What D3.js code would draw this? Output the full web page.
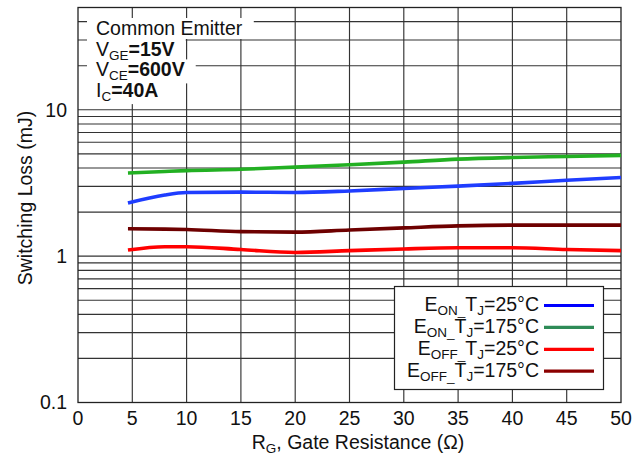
<!DOCTYPE html>
<html>
<head>
<meta charset="utf-8">
<script src="https://cdn.jsdelivr.net/npm/d3@7"></script>
<style>
  html, body { margin: 0; padding: 0; background: #fff; }
  svg { display: block; font-family: "Liberation Sans", Arial, Helvetica, sans-serif; }
</style>
</head>
<body>
<svg id="chart" width="642" height="460"></svg>
<script>
// Gate resistance (ohm) sample points
const rg = [4.6, 8, 10, 15, 20, 25, 30, 35, 40, 45, 50];

// Switching energy (mJ) for each curve
const eOn25   = [2.31, 2.62, 2.72, 2.74, 2.72, 2.79, 2.90, 3.01, 3.14, 3.30, 3.45];
const eOn175  = [3.70, 3.79, 3.84, 3.92, 4.06, 4.21, 4.39, 4.60, 4.72, 4.80, 4.88];
const eOff25  = [1.10, 1.16, 1.16, 1.11, 1.06, 1.09, 1.12, 1.14, 1.14, 1.11, 1.09];
const eOff175 = [1.54, 1.53, 1.52, 1.47, 1.46, 1.51, 1.56, 1.61, 1.63, 1.63, 1.63];

const xTicks = [0, 5, 10, 15, 20, 25, 30, 35, 40, 45, 50];
const yTickLabels = [0.1, 1, 10];
const yGrid = [0.2, 0.3, 0.4, 0.5, 0.6, 0.7, 0.8, 0.9, 1,
               2, 3, 4, 5, 6, 7, 8, 9, 10, 20, 30, 40];

const series = [
  { name: ["E", "ON_", "T", "J", "=25°C"],  values: eOn25,   color: "#1f3dff", key: "#0000ff" },
  { name: ["E", "ON_", "T", "J", "=175°C"], values: eOn175,  color: "#22b022", key: "#2e8b57" },
  { name: ["E", "OFF_", "T", "J", "=25°C"], values: eOff25,  color: "#ff0000", key: "#ff0000" },
  { name: ["E", "OFF_", "T", "J", "=175°C"], values: eOff175, color: "#6e0000", key: "#8b0000" }
];

const FS = 19.5;   // main text size
const SUB = 13.5;  // subscript size
const SUBDY = 4;   // subscript drop

const svg = d3.select("#chart");
const m = { left: 78, right: 621, top: 7.5, bottom: 402.5 };

const x = d3.scaleLinear().domain([0, 50]).range([m.left, m.right]);
const y = d3.scaleLog().domain([0.1, 50]).range([m.bottom, m.top]);

// grid
const grid = svg.append("g").attr("stroke", "#333").attr("stroke-width", 1.15);
grid.selectAll("line.h").data(yGrid).join("line")
  .attr("x1", m.left).attr("x2", m.right)
  .attr("y1", d => y(d)).attr("y2", d => y(d));
grid.selectAll("line.v").data(xTicks.slice(1, -1)).join("line")
  .attr("y1", m.top).attr("y2", m.bottom)
  .attr("x1", d => x(d)).attr("x2", d => x(d));

// frame
svg.append("rect")
  .attr("x", m.left).attr("y", m.top)
  .attr("width", m.right - m.left).attr("height", m.bottom - m.top)
  .attr("fill", "none").attr("stroke", "#222").attr("stroke-width", 1.3);

// tick labels
svg.append("g").selectAll("text").data(xTicks).join("text")
  .attr("x", d => x(d)).attr("y", 425)
  .attr("text-anchor", "middle").attr("font-size", FS).attr("fill", "#111")
  .text(d => d);

svg.append("g").selectAll("text").data(yTickLabels).join("text")
  .attr("x", 67).attr("y", d => y(d)).attr("dy", "0.35em")
  .attr("text-anchor", "end").attr("font-size", FS).attr("fill", "#111")
  .text(d => d);

// axis titles
const xt = svg.append("text").attr("x", 358).attr("y", 449)
  .attr("text-anchor", "middle").attr("font-size", FS).attr("fill", "#111");
xt.append("tspan").text("R");
xt.append("tspan").attr("dy", SUBDY).attr("font-size", SUB).text("G");
xt.append("tspan").attr("dy", -SUBDY).text(", Gate Resistance (Ω)");

svg.append("text")
  .attr("transform", "translate(32,198) rotate(-90)")
  .attr("text-anchor", "middle").attr("font-size", FS).attr("fill", "#111")
  .text("Switching Loss (mJ)");

// curves
const line = d3.line()
  .x((d, i) => x(rg[i]))
  .y(d => y(d))
  .curve(d3.curveMonotoneX);

svg.append("g").selectAll("path").data(series).join("path")
  .attr("d", d => line(d.values))
  .attr("fill", "none")
  .attr("stroke", d => d.color)
  .attr("stroke-width", 3.6)
  .attr("stroke-linecap", "butt");

// test-condition notes; white backings go in a layer beneath all text
const notes = [
  [["Common Emitter", "n"]],
  [["V", "n"], ["GE", "s"], ["=15V", "b"]],
  [["V", "n"], ["CE", "s"], ["=600V", "b"]],
  [["I", "n"], ["C", "s"], ["=40A", "b"]]
];
const noteBg = svg.append("g");
const noteTx = svg.append("g");
notes.forEach((parts, i) => {
  const t = noteTx.append("text").attr("x", 96).attr("y", 35 + i * 20.7)
    .attr("font-size", FS).attr("fill", "#111");
  let shifted = false;
  parts.forEach(([s, kind]) => {
    const ts = t.append("tspan").text(s);
    if (kind === "s") { ts.attr("dy", SUBDY).attr("font-size", SUB); shifted = true; }
    else if (shifted) { ts.attr("dy", -SUBDY); shifted = false; }
    if (kind === "b") ts.attr("font-weight", "bold");
  });
  const bb = t.node().getBBox();
  noteBg.append("rect")
    .attr("x", bb.x - 9).attr("y", bb.y + 1)
    .attr("width", bb.width + 20).attr("height", bb.height - 1)
    .attr("fill", "#fff");
});

// legend
const lg = svg.append("g");
lg.append("rect").attr("x", 394.5).attr("y", 286.5).attr("width", 209).attr("height", 103)
  .attr("fill", "#fff").attr("stroke", "#222").attr("stroke-width", 1.2);
series.forEach((s, i) => {
  const cy = 305.5 + i * 21.9;
  const t = lg.append("text").attr("x", 539).attr("y", cy + 5.5)
    .attr("text-anchor", "end").attr("font-size", FS).attr("fill", "#111");
  t.append("tspan").text(s.name[0]);
  t.append("tspan").attr("dy", SUBDY).attr("font-size", SUB).text(s.name[1]);
  t.append("tspan").attr("dy", -SUBDY).text(s.name[2]);
  t.append("tspan").attr("dy", SUBDY).attr("font-size", SUB).text(s.name[3]);
  t.append("tspan").attr("dy", -SUBDY).text(s.name[4]);
  lg.append("line").attr("x1", 544).attr("x2", 594).attr("y1", cy).attr("y2", cy)
    .attr("stroke", s.key).attr("stroke-width", 3.2);
});
</script>
</body>
</html>
